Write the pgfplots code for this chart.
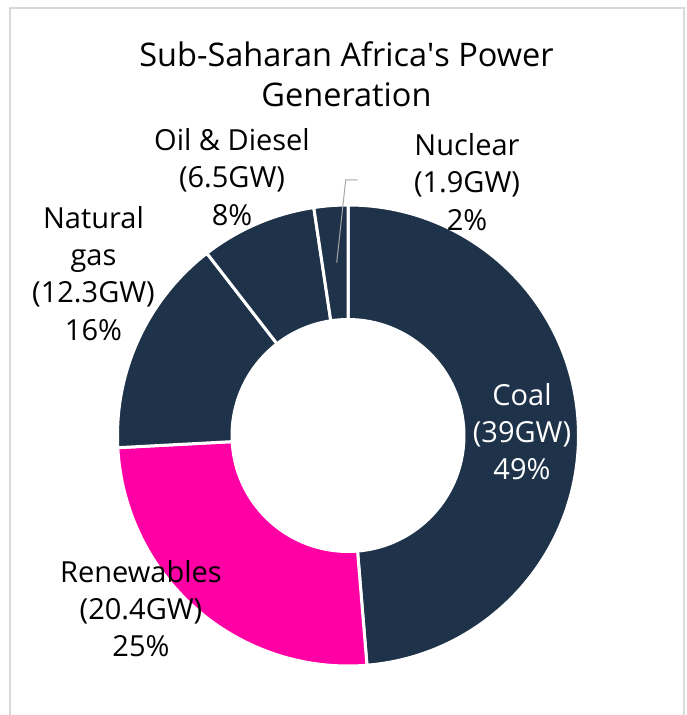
\documentclass[border=0pt]{standalone}
\usepackage{fontspec}
\setmainfont{Open Sans}
\usepackage{pgfplots}
\usepackage{pgfplotstable}
\pgfplotsset{compat=1.18}

\definecolor{navy}{RGB}{30,50,73}
\definecolor{hotpink}{RGB}{255,0,165}
\definecolor{framegrey}{RGB}{217,217,217}
\definecolor{leadergrey}{RGB}{166,166,166}

% installed capacity, GW
\pgfplotstableread{
source value
Coal 39
Renewables 20.4
Gas 12.3
Oil 6.5
Nuclear 1.9
}\gentable

\newcommand\lbl{\fontsize{29}{37.4}\selectfont}

\begin{document}
\begin{tikzpicture}
\pgfplotstablegetelem{0}{value}\of\gentable \let\vCoal\pgfplotsretval
\pgfplotstablegetelem{1}{value}\of\gentable \let\vRen\pgfplotsretval
\pgfplotstablegetelem{2}{value}\of\gentable \let\vGas\pgfplotsretval
\pgfplotstablegetelem{3}{value}\of\gentable \let\vOil\pgfplotsretval
\pgfplotstablegetelem{4}{value}\of\gentable \let\vNuc\pgfplotsretval
\pgfmathsetmacro\total{\vCoal+\vRen+\vGas+\vOil+\vNuc}
% slice boundaries, clockwise from 12 o'clock
\pgfmathsetmacro\bA{90}
\pgfmathsetmacro\bB{\bA-360*\vCoal/\total}
\pgfmathsetmacro\bC{\bB-360*\vRen/\total}
\pgfmathsetmacro\bD{\bC-360*\vGas/\total}
\pgfmathsetmacro\bE{\bD-360*\vOil/\total}
\pgfmathsetmacro\bF{\bE-360*\vNuc/\total}

\path[use as bounding box] (0,0) rectangle (686pt,715pt);
\begin{axis}[
    at={(0pt,0pt)}, anchor=origin,
    x=1pt, y=1pt,
    xmin=0, xmax=686, ymin=0, ymax=715,
    hide axis, clip=false,
]
% frame (open at the bottom)
\addplot[framegrey, line width=2pt] coordinates {(10,-5) (10,707) (684,707) (684,-5)};

\tikzset{ring/.style={draw=white, line width=3pt, line join=round}}
\newcommand\ring[3]{%
  \filldraw[ring, fill=#3] (axis cs:348,279.5) ++(#1:230.5pt)
    arc[start angle=#1, end angle=#2, radius=230.5pt]
    -- ++({#2+180}:114.5pt)
    arc[start angle=#2, end angle=#1, radius=116pt] -- cycle;}
\ring{\bA}{\bB}{navy}
\ring{\bB}{\bC}{hotpink}
\ring{\bC}{\bD}{navy}
\ring{\bD}{\bE}{navy}
\ring{\bE}{\bF}{navy}

% leader for the nuclear label
\addplot[leadergrey, line width=1pt] coordinates {(336.7,452.3) (345.7,535) (357.7,535)};

\node[font=\fontsize{32.5}{40}\selectfont, align=center] at (axis cs:346.5,640.7)
  {Sub-Saharan Africa\textquotesingle s Power\\Generation};
\node[font=\lbl, align=center, text=white] at (axis cs:522,283.3) {Coal\\(39GW)\\49\%};
\node[font=\lbl, align=center] at (axis cs:141,106.3) {Renewables\\(20.4GW)\\25\%};
\node[font=\lbl, align=center] at (axis cs:93.5,441.7) {Natural\\gas\\(12.3GW)\\16\%};
\node[font=\lbl, align=center] at (axis cs:232,538) {Oil \& Diesel\\(6.5GW)\\8\%};
\node[font=\lbl, align=center] at (axis cs:467,533) {Nuclear\\(1.9GW)\\2\%};
\end{axis}
\end{tikzpicture}
\end{document}
